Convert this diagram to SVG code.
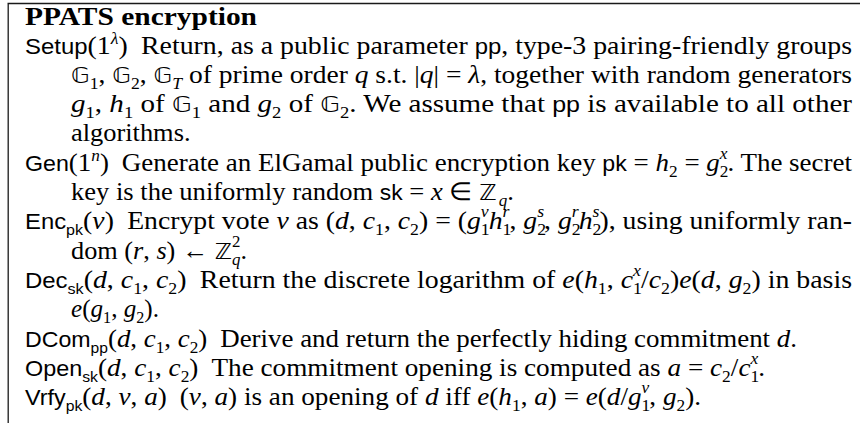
<svg xmlns="http://www.w3.org/2000/svg" width="860" height="423" viewBox="0 0 860 423">
  <style>
    text { font-family: "Liberation Serif", "Times New Roman", serif; font-size: 25px; fill: #000; }
    .b { font-weight: bold; }
    .i { font-style: italic; }
    .sf { font-family: "Liberation Sans", Arial, sans-serif; font-size: 21.5px; font-style: normal; }
    .ss { font-family: "Liberation Sans", Arial, sans-serif; font-size: 14.5px; }
    .s { font-size: 16px; }
    .bb { font-family: "DejaVu Sans", "Noto Sans", sans-serif; font-size: 22px; }
    .frame { fill: none; stroke: #1a1a1a; stroke-width: 1.3; }
  </style>

  <!-- open frame: top and left rules only -->
  <path class="frame" d="M7.5 3.5H860M8.2 3V423"/>

  <g id="title">
    <text class="b" x="25" y="24.5" textLength="232" lengthAdjust="spacingAndGlyphs">PPATS encryption</text>
  </g>

  <g id="setup">
    <text x="25" y="53.5" textLength="827" lengthAdjust="spacingAndGlyphs"><tspan class="sf">Setup</tspan>(1<tspan class="s i" dy="-10">λ</tspan><tspan dy="10">)</tspan><tspan dx="12">Return, as a public parameter </tspan><tspan class="sf">pp</tspan>, type-3 pairing-friendly groups</text>
    <text x="71" y="82.8" textLength="781" lengthAdjust="spacingAndGlyphs"><tspan class="bb">𝔾</tspan><tspan class="s" dy="6">1</tspan><tspan dy="-6">, </tspan><tspan class="bb">𝔾</tspan><tspan class="s" dy="6">2</tspan><tspan dy="-6">, </tspan><tspan class="bb">𝔾</tspan><tspan class="s i" dy="6">T</tspan><tspan dy="-6"> of prime order </tspan><tspan class="i">q</tspan> s.t. |<tspan class="i">q</tspan>| = <tspan class="i">λ</tspan>, together with random generators</text>
    <text x="71" y="112.1" textLength="781" lengthAdjust="spacingAndGlyphs"><tspan class="i">g</tspan><tspan class="s" dy="6">1</tspan><tspan dy="-6">, </tspan><tspan class="i">h</tspan><tspan class="s" dy="6">1</tspan><tspan dy="-6"> of </tspan><tspan class="bb">𝔾</tspan><tspan class="s" dy="6">1</tspan><tspan dy="-6"> and </tspan><tspan class="i">g</tspan><tspan class="s" dy="6">2</tspan><tspan dy="-6"> of </tspan><tspan class="bb">𝔾</tspan><tspan class="s" dy="6">2</tspan><tspan dy="-6">. We assume that </tspan><tspan class="sf">pp</tspan> is available to all other</text>
    <text x="71" y="141.4" textLength="119.5" lengthAdjust="spacingAndGlyphs">algorithms.</text>
  </g>

  <g id="gen">
    <text x="25" y="170.7" textLength="827" lengthAdjust="spacingAndGlyphs"><tspan class="sf">Gen</tspan>(1<tspan class="s i" dy="-10">n</tspan><tspan dy="10">)</tspan><tspan dx="12">Generate an ElGamal public encryption key </tspan><tspan class="sf">pk</tspan> = <tspan class="i">h</tspan><tspan class="s" dy="6">2</tspan><tspan dy="-6"> = </tspan><tspan class="i">g</tspan><tspan class="s" dy="6">2</tspan><tspan class="s i" dx="-8" dy="-18">x</tspan><tspan dy="12">. The secret</tspan></text>
    <text x="71" y="200" textLength="443" lengthAdjust="spacingAndGlyphs">key is the uniformly random <tspan class="sf">sk</tspan> = <tspan class="i">x</tspan> ∈ <tspan class="bb">ℤ</tspan><tspan class="s i" dx="2" dy="6">q</tspan><tspan dy="-6">.</tspan></text>
  </g>

  <g id="enc">
    <text x="25" y="229.3" textLength="827" lengthAdjust="spacingAndGlyphs"><tspan class="sf">Enc</tspan><tspan class="ss" dy="6">pk</tspan><tspan dy="-6">(</tspan><tspan class="i">v</tspan>)<tspan dx="12">Encrypt vote </tspan><tspan class="i">v</tspan> as (<tspan class="i">d</tspan>, <tspan class="i">c</tspan><tspan class="s" dy="6">1</tspan><tspan dy="-6">, </tspan><tspan class="i">c</tspan><tspan class="s" dy="6">2</tspan><tspan dy="-6">) = (</tspan><tspan class="i">g</tspan><tspan class="s" dy="6">1</tspan><tspan class="s i" dx="-8" dy="-18">v</tspan><tspan class="i" dy="12">h</tspan><tspan class="s" dy="6">1</tspan><tspan class="s i" dx="-8" dy="-18">r</tspan><tspan dy="12">, </tspan><tspan class="i">g</tspan><tspan class="s" dy="6">2</tspan><tspan class="s i" dx="-8" dy="-18">s</tspan><tspan dy="12">, </tspan><tspan class="i">g</tspan><tspan class="s" dy="6">2</tspan><tspan class="s i" dx="-8" dy="-18">r</tspan><tspan class="i" dy="12">h</tspan><tspan class="s" dy="6">2</tspan><tspan class="s i" dx="-8" dy="-18">s</tspan><tspan dy="12">), using uniformly ran-</tspan></text>
    <text x="71" y="258.6" textLength="176" lengthAdjust="spacingAndGlyphs">dom (<tspan class="i">r</tspan>, <tspan class="i">s</tspan>) ← <tspan class="bb">ℤ</tspan><tspan class="s i" dy="6">q</tspan><tspan class="s" dx="-8" dy="-18">2</tspan><tspan dy="12">.</tspan></text>
  </g>

  <g id="dec">
    <text x="25" y="287.9" textLength="827" lengthAdjust="spacingAndGlyphs"><tspan class="sf">Dec</tspan><tspan class="ss" dy="6">sk</tspan><tspan dy="-6">(</tspan><tspan class="i">d</tspan>, <tspan class="i">c</tspan><tspan class="s" dy="6">1</tspan><tspan dy="-6">, </tspan><tspan class="i">c</tspan><tspan class="s" dy="6">2</tspan><tspan dy="-6">)</tspan><tspan dx="12">Return the discrete logarithm of </tspan><tspan class="i">e</tspan>(<tspan class="i">h</tspan><tspan class="s" dy="6">1</tspan><tspan dy="-6">, </tspan><tspan class="i">c</tspan><tspan class="s" dy="6">1</tspan><tspan class="s i" dx="-8" dy="-18">x</tspan><tspan dy="12">/</tspan><tspan class="i">c</tspan><tspan class="s" dy="6">2</tspan><tspan dy="-6">)</tspan><tspan class="i">e</tspan>(<tspan class="i">d</tspan>, <tspan class="i">g</tspan><tspan class="s" dy="6">2</tspan><tspan dy="-6">) in basis</tspan></text>
    <text x="71" y="317.2" textLength="88" lengthAdjust="spacingAndGlyphs"><tspan class="i">e</tspan>(<tspan class="i">g</tspan><tspan class="s" dy="6">1</tspan><tspan dy="-6">, </tspan><tspan class="i">g</tspan><tspan class="s" dy="6">2</tspan><tspan dy="-6">).</tspan></text>
  </g>

  <g id="dcom">
    <text x="25" y="346.5" textLength="772" lengthAdjust="spacingAndGlyphs"><tspan class="sf">DCom</tspan><tspan class="ss" dy="6">pp</tspan><tspan dy="-6">(</tspan><tspan class="i">d</tspan>, <tspan class="i">c</tspan><tspan class="s" dy="6">1</tspan><tspan dy="-6">, </tspan><tspan class="i">c</tspan><tspan class="s" dy="6">2</tspan><tspan dy="-6">)</tspan><tspan dx="12">Derive and return the perfectly hiding commitment </tspan><tspan class="i">d</tspan>.</text>
  </g>

  <g id="open">
    <text x="25" y="375.8" textLength="740" lengthAdjust="spacingAndGlyphs"><tspan class="sf">Open</tspan><tspan class="ss" dy="6">sk</tspan><tspan dy="-6">(</tspan><tspan class="i">d</tspan>, <tspan class="i">c</tspan><tspan class="s" dy="6">1</tspan><tspan dy="-6">, </tspan><tspan class="i">c</tspan><tspan class="s" dy="6">2</tspan><tspan dy="-6">)</tspan><tspan dx="12">The commitment opening is computed as </tspan><tspan class="i">a</tspan> = <tspan class="i">c</tspan><tspan class="s" dy="6">2</tspan><tspan dy="-6">/</tspan><tspan class="i">c</tspan><tspan class="s" dy="6">1</tspan><tspan class="s i" dx="-8" dy="-18">x</tspan><tspan dy="12">.</tspan></text>
  </g>

  <g id="vrfy">
    <text x="25" y="405.1" textLength="676" lengthAdjust="spacingAndGlyphs"><tspan class="sf">Vrfy</tspan><tspan class="ss" dy="6">pk</tspan><tspan dy="-6">(</tspan><tspan class="i">d</tspan>, <tspan class="i">v</tspan>, <tspan class="i">a</tspan>)<tspan dx="12">(</tspan><tspan class="i">v</tspan>, <tspan class="i">a</tspan>) is an opening of <tspan class="i">d</tspan> iff <tspan class="i">e</tspan>(<tspan class="i">h</tspan><tspan class="s" dy="6">1</tspan><tspan dy="-6">, </tspan><tspan class="i">a</tspan>) = <tspan class="i">e</tspan>(<tspan class="i">d</tspan>/<tspan class="i">g</tspan><tspan class="s" dy="6">1</tspan><tspan class="s i" dx="-8" dy="-18">v</tspan><tspan dy="12">, </tspan><tspan class="i">g</tspan><tspan class="s" dy="6">2</tspan><tspan dy="-6">).</tspan></text>
  </g>
</svg>
